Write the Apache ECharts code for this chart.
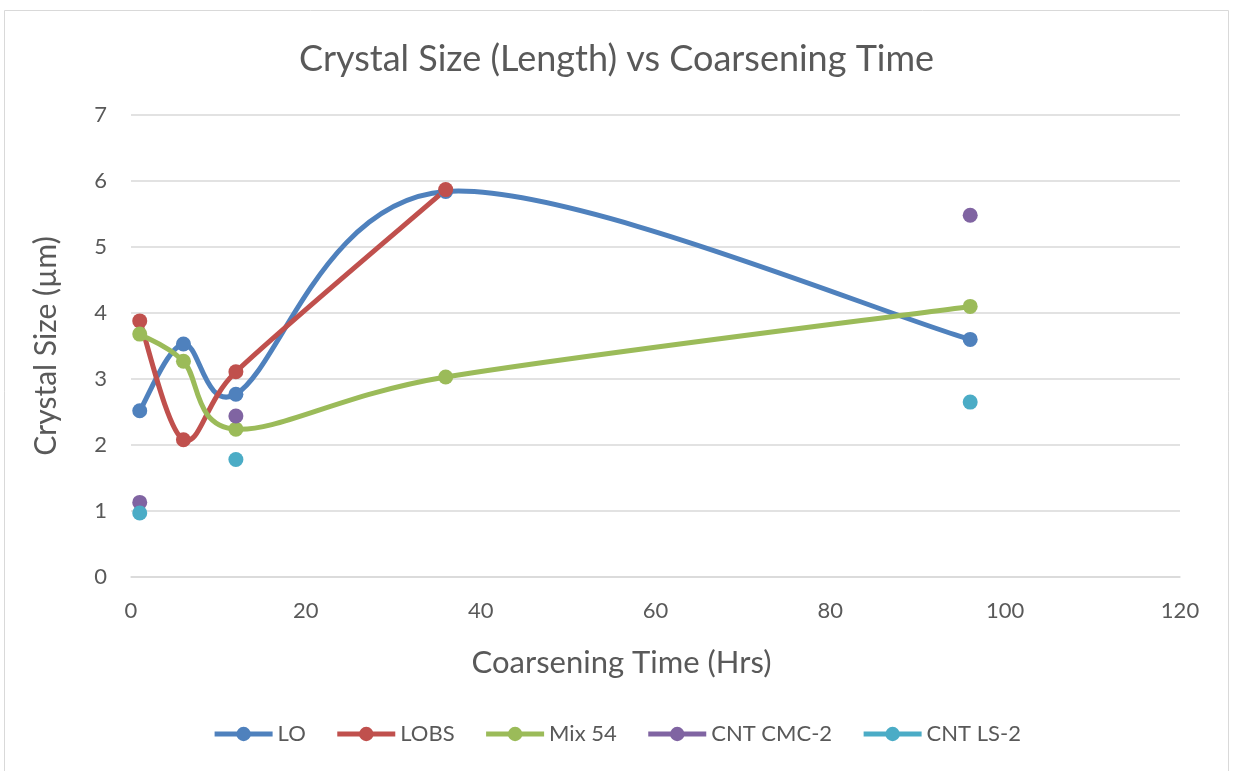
<!DOCTYPE html>
<html>
<head>
<meta charset="utf-8">
<script src="https://cdn.jsdelivr.net/npm/echarts@6/dist/echarts.min.js"></script>
<style>
  html, body { margin: 0; padding: 0; background: #ffffff; }
  #chart { width: 1233px; height: 771px; }
</style>
</head>
<body>
<div id="chart"></div>
<script>
// Coarsening time (hours) and measured crystal lengths (µm) per sample set
const loTime = [1, 6, 12, 36, 96];
const loSize = [2.52, 3.53, 2.77, 5.84, 3.60];

const lobsTime = [1, 6, 12, 36];
const lobsSize = [3.88, 2.08, 3.11, 5.87];

const mixTime = [1, 6, 12, 36, 96];
const mixSize = [3.68, 3.27, 2.24, 3.03, 4.10];

const cmcTime = [1, 12, 96];
const cmcSize = [1.13, 2.44, 5.48];

const lsTime = [1, 12, 96];
const lsSize = [0.97, 1.78, 2.65];

const seriesNames = ['LO', 'LOBS', 'Mix 54', 'CNT CMC-2', 'CNT LS-2'];
const seriesColors = ['#4F81BD', '#C0504D', '#9BBB59', '#8064A2', '#4BACC6'];

const xTicks = { min: 0, max: 120, interval: 20 };
const yTicks = { min: 0, max: 7, interval: 1 };

const FONT = 'Lato, "Open Sans", "Noto Sans", sans-serif';
const TEXT = '#595959';

function pairs(xs, ys) { return xs.map((x, i) => [x, ys[i]]); }

// Markers (and legend entry) for a sample set
function markerSeries(name, color, xs, ys) {
  return {
    name: name,
    type: 'line',
    data: pairs(xs, ys),
    symbol: 'circle',
    symbolSize: 15,
    showSymbol: true,
    itemStyle: { color: color },
    lineStyle: { width: 0, opacity: 0 },
    emphasis: { disabled: true },
    z: 4
  };
}

// Smoothed connecting line: cardinal Bezier segments (tension 1/6),
// with each control arm limited to half of its segment length.
function curveSeries(name, color, xs, ys) {
  const n = xs.length;
  const at = (api, k) => {
    const j = Math.max(0, Math.min(n - 1, k));
    return api.coord([xs[j], ys[j]]);
  };
  const dist = (a, b) => Math.hypot(b[0] - a[0], b[1] - a[1]);
  return {
    name: name + ' (smoothed)',
    type: 'custom',
    data: pairs(xs, ys),
    encode: { x: 0, y: 1 },
    z: 2,
    silent: true,
    renderItem: function (params, api) {
      const i = params.dataIndex;
      if (i >= n - 1) return null;
      const p0 = at(api, i - 1), p1 = api.coord([api.value(0), api.value(1)]);
      const p2 = at(api, i + 1), p3 = at(api, i + 2);
      const d12 = dist(p1, p2), d02 = dist(p0, p2), d13 = dist(p1, p3);
      let f1 = 1 / 6, f2 = 1 / 6;
      if (d02 * f1 > d12 / 2) f1 = d12 / (2 * d02);
      if (d13 * f2 > d12 / 2) f2 = d12 / (2 * d13);
      return {
        type: 'bezierCurve',
        shape: {
          x1: p1[0], y1: p1[1],
          cpx1: p1[0] + (p2[0] - p0[0]) * f1, cpy1: p1[1] + (p2[1] - p0[1]) * f1,
          cpx2: p2[0] - (p3[0] - p1[0]) * f2, cpy2: p2[1] - (p3[1] - p1[1]) * f2,
          x2: p2[0], y2: p2[1]
        },
        style: { fill: 'none', stroke: color, lineWidth: 5, lineCap: 'round' }
      };
    }
  };
}

const chart = echarts.init(document.getElementById('chart'), null, { renderer: 'canvas' });

chart.setOption({
  animation: false,
  backgroundColor: '#ffffff',
  textStyle: { fontFamily: FONT },
  graphic: [{
    type: 'rect',
    shape: { x: 4.5, y: 10.5, width: 1224, height: 770 },
    style: { fill: 'none', stroke: '#d9d9d9', lineWidth: 1 },
    silent: true
  }],
  title: {
    text: 'Crystal Size (Length) vs Coarsening Time',
    left: 'center',
    top: 36,
    textStyle: { fontFamily: FONT, fontSize: 36, fontWeight: 'normal', color: TEXT }
  },
  legend: {
    bottom: 21,
    left: 'center',
    itemWidth: 58,
    itemHeight: 18,
    itemGap: 29,
    textStyle: { fontFamily: FONT, fontSize: 22, color: TEXT },
    data: seriesNames.map((n, i) => ({
      name: n,
      itemStyle: { color: seriesColors[i] },
      lineStyle: { color: seriesColors[i], width: 5, opacity: 1 }
    }))
  },
  grid: { left: 131, right: 53, top: 115, bottom: 194, containLabel: false },
  xAxis: {
    type: 'value',
    min: xTicks.min, max: xTicks.max, interval: xTicks.interval,
    name: 'Coarsening Time (Hrs)',
    nameLocation: 'middle',
    nameGap: 70,
    nameTextStyle: { fontFamily: FONT, fontSize: 31, color: TEXT, padding: [0, 68, 0, 0] },
    axisLine: { show: true, lineStyle: { color: '#d9d9d9', width: 1.5 } },
    axisTick: { show: false },
    axisLabel: { fontFamily: FONT, fontSize: 22, color: TEXT, margin: 23 },
    splitLine: { show: false }
  },
  yAxis: {
    type: 'value',
    min: yTicks.min, max: yTicks.max, interval: yTicks.interval,
    name: 'Crystal Size (µm)',
    nameLocation: 'middle',
    nameGap: 70,
    nameTextStyle: { fontFamily: FONT, fontSize: 30, color: TEXT },
    axisLine: { show: false },
    axisTick: { show: false },
    axisLabel: { fontFamily: FONT, fontSize: 22, color: TEXT, margin: 24 },
    splitLine: { show: true, lineStyle: { color: '#d9d9d9', width: 1.5 } }
  },
  series: [
    curveSeries('LO', seriesColors[0], loTime, loSize),
    curveSeries('LOBS', seriesColors[1], lobsTime, lobsSize),
    curveSeries('Mix 54', seriesColors[2], mixTime, mixSize),
    markerSeries('LO', seriesColors[0], loTime, loSize),
    markerSeries('LOBS', seriesColors[1], lobsTime, lobsSize),
    markerSeries('Mix 54', seriesColors[2], mixTime, mixSize),
    markerSeries('CNT CMC-2', seriesColors[3], cmcTime, cmcSize),
    markerSeries('CNT LS-2', seriesColors[4], lsTime, lsSize)
  ]
});
</script>
</body>
</html>
